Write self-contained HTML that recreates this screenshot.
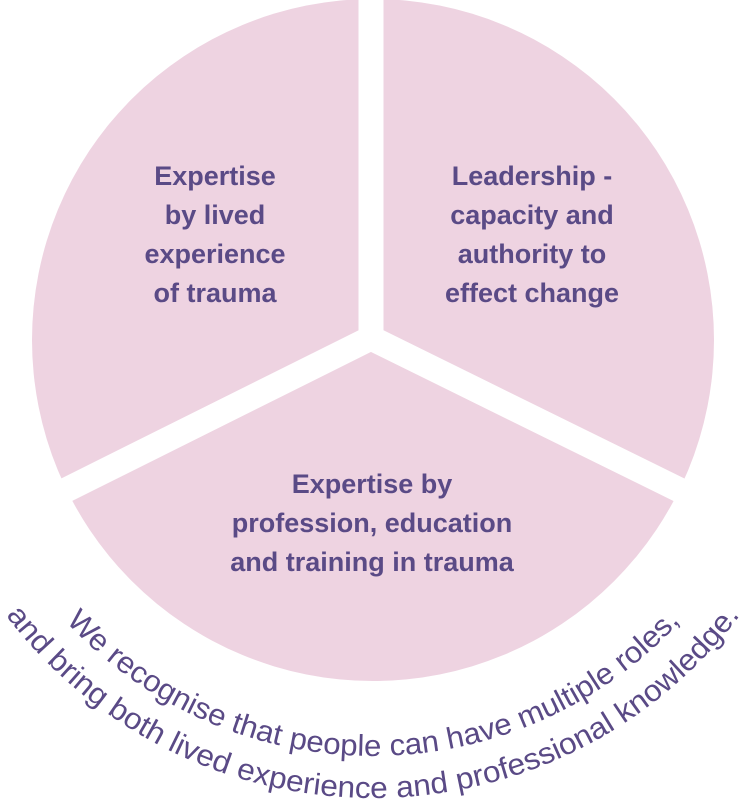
<!DOCTYPE html>
<html><head><meta charset="utf-8"><style>
html,body{margin:0;padding:0;background:#fff;}
svg{display:block;}
text{font-family:"Liberation Sans",sans-serif;fill:#5a4a86;}
.t{font-weight:bold;font-size:27px;text-anchor:middle;}
</style></head><body>
<svg width="750" height="807" viewBox="0 0 750 807" xmlns="http://www.w3.org/2000/svg">
<circle cx="373" cy="340" r="341" fill="#eed3e1"/>
<g stroke="#fff" stroke-width="25" stroke-linecap="butt">
<line x1="371" y1="338" x2="371" y2="-10"/>
<line x1="371" y1="338" x2="40" y2="503"/>
<line x1="371" y1="338" x2="720" y2="510"/>
</g>
<text class="t" x="215" y="185">Expertise</text>
<text class="t" x="215" y="224">by lived</text>
<text class="t" x="215" y="263">experience</text>
<text class="t" x="215" y="302">of trauma</text>
<text class="t" x="532" y="185">Leadership -</text>
<text class="t" x="532" y="224">capacity and</text>
<text class="t" x="532" y="263">authority to</text>
<text class="t" x="532" y="302">effect change</text>
<text class="t" x="372" y="493">Expertise by</text>
<text class="t" x="372" y="532">profession, education</text>
<text class="t" x="372" y="571">and training in trauma</text>
<defs>
<path id="a1" d="M 23 566.5 A 418 418 0 0 0 723 566.5"/>
<path id="a2" d="M -30 559.8 A 460 460 0 0 0 776 559.8"/>
</defs>
<text font-size="30"><textPath href="#a1" startOffset="50%" text-anchor="middle" textLength="690" lengthAdjust="spacingAndGlyphs">We recognise that people can have multiple roles,</textPath></text>
<text font-size="30"><textPath href="#a2" startOffset="50%" text-anchor="middle" textLength="850" lengthAdjust="spacingAndGlyphs">and bring both lived experience and professional knowledge.</textPath></text>
</svg>
</body></html>
